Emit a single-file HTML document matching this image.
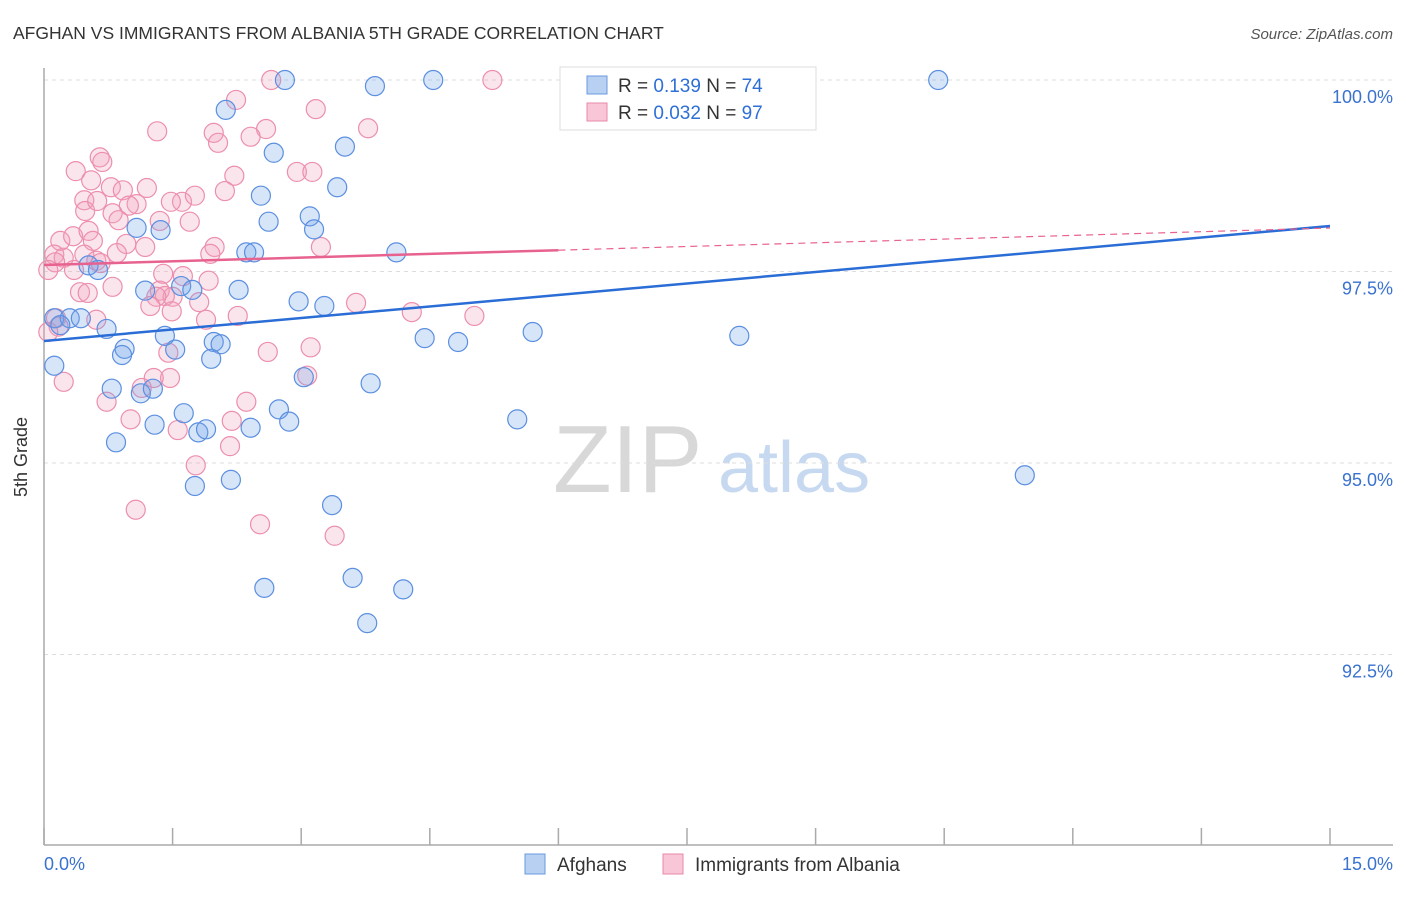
<!DOCTYPE html>
<html><head><meta charset="utf-8"><style>
body{margin:0;background:#fff;font-family:"Liberation Sans",sans-serif;}
svg text{font-family:"Liberation Sans",sans-serif;}
</style></head><body>
<svg width="1406" height="892" viewBox="0 0 1406 892" xmlns="http://www.w3.org/2000/svg">
<text x="13" y="39" font-size="17.5" fill="#333">AFGHAN VS IMMIGRANTS FROM ALBANIA 5TH GRADE CORRELATION CHART</text>
<text x="1393" y="39" font-size="15" fill="#555" font-style="italic" text-anchor="end">Source: ZipAtlas.com</text>
<g>
<text x="553" y="492" font-size="96" font-family="Liberation Serif" fill="#d8d8d8">ZIP</text>
<text x="718" y="492" font-size="72" fill="#c7d9f0">atlas</text>
</g>
<g id="grid"></g>
<g id="axes"></g>
<g id="pts"></g>
<g id="lines"></g>
<text x="27" y="457" font-size="18" fill="#333" text-anchor="middle" transform="rotate(-90 27 457)">5th Grade</text>
<g>
<rect x="560" y="67" width="256" height="63" fill="#fff" stroke="#ddd"/>
<rect x="587" y="76" width="20" height="18" fill="#b8d0f2" stroke="#6a9ae0"/>
<text x="618" y="92" font-size="19" fill="#333">R = <tspan fill="#2e6fd6"> 0.139</tspan>   N = <tspan fill="#2e6fd6">74</tspan></text>
<rect x="587" y="103" width="20" height="18" fill="#f8c6d6" stroke="#e889a8"/>
<text x="618" y="119" font-size="19" fill="#333">R = <tspan fill="#2e6fd6">0.032</tspan>   N = <tspan fill="#2e6fd6">97</tspan></text>
</g>
<g>
<rect x="525" y="854" width="20" height="20" fill="#b8d0f2" stroke="#6a9ae0"/>
<text x="557" y="871" font-size="19" fill="#333">Afghans</text>
<rect x="663" y="854" width="20" height="20" fill="#f8c6d6" stroke="#e889a8"/>
<text x="695" y="871" font-size="19" fill="#333">Immigrants from Albania</text>
</g>
</svg>
<script>
const yTicks=[100,97.5,95,92.5];
const yTickLabels=["100.0%","97.5%","95.0%","92.5%"];
const xTickLabels=["0.0%","15.0%"];
const blueX=[2.81,4.54,6.86,8.78,10.43,3.86,2.12,2.68,3.51,3.42,2.53,3.10,2.62,3.15,1.36,1.08,4.11,2.36,2.45,0.52,0.63,1.18,1.60,1.73,2.27,2.97,3.27,0.12,0.30,0.43,0.19,0.73,1.41,0.94,0.91,1.53,1.98,2.06,1.95,4.44,4.83,5.70,8.11,0.12,3.03,3.81,0.79,1.13,1.27,2.74,1.63,1.29,2.86,5.52,1.80,1.89,2.41,0.84,11.44,2.18,1.76,3.36,2.57,3.60,4.19,3.77];
const blueY=[100,100,100,100,100,99.92,99.61,99.05,99.13,98.60,98.49,98.22,98.15,98.05,98.04,98.07,97.75,97.75,97.75,97.58,97.52,97.25,97.31,97.26,97.26,97.11,97.05,96.89,96.89,96.89,96.80,96.75,96.66,96.49,96.41,96.48,96.58,96.55,96.36,96.63,96.58,96.71,96.66,96.27,96.12,96.04,95.97,95.91,95.97,95.70,95.65,95.50,95.54,95.57,95.40,95.44,95.46,95.27,94.84,94.78,94.70,94.45,93.37,93.50,93.35,92.91];
const pinkX=[2.65,5.23,2.24,3.17,1.32,1.98,3.78,2.59,2.03,2.41,2.95,3.13,2.22,0.65,0.68,0.37,0.55,0.47,0.78,0.92,1.20,1.08,0.99,0.80,0.87,0.48,0.62,2.11,1.61,1.48,1.76,1.35,1.70,0.19,0.34,0.52,0.57,0.96,1.18,1.99,1.94,0.85,3.23,0.12,0.23,0.47,0.61,0.13,0.05,0.35,0.66,0.42,1.35,1.50,1.62,1.92,1.81,1.41,1.31,1.39,0.80,0.51,1.24,1.49,1.89,2.26,3.64,4.29,5.02,0.61,0.17,0.05,0.14,1.45,2.61,3.11,1.47,1.28,3.07,0.23,0.73,1.14,2.36,1.01,1.56,2.19,2.17,1.77,1.07,2.52,3.39];
const pinkY=[100,100,99.74,99.62,99.33,99.31,99.37,99.36,99.18,99.26,98.80,98.80,98.75,98.99,98.93,98.81,98.69,98.43,98.60,98.56,98.59,98.38,98.36,98.26,98.17,98.29,98.42,98.55,98.41,98.41,98.49,98.16,98.15,97.90,97.96,98.03,97.90,97.86,97.82,97.82,97.73,97.74,97.82,97.72,97.68,97.72,97.64,97.62,97.52,97.52,97.61,97.23,97.25,97.17,97.44,97.38,97.10,97.18,97.17,97.47,97.30,97.22,97.05,96.98,96.87,96.92,97.09,96.97,96.92,96.87,96.78,96.71,96.89,96.44,96.45,96.51,96.11,96.11,96.14,96.06,95.80,95.98,95.80,95.57,95.43,95.55,95.22,94.97,94.39,94.20,94.05];
const blueTrend=[96.593,98.094];
const pinkTrend=[97.585,98.068];
const pinkSolidEnd=6.0;
const NS="http://www.w3.org/2000/svg";
const X0=44,X1=1330,Y100=80,PX_PER_PCT=191.5/2.5;
function sx(v){return X0+(v/15)*(X1-X0);}
function sy(v){return Y100+(100-v)*PX_PER_PCT;}
function mk(tag,attrs,parent){const e=document.createElementNS(NS,tag);for(const k in attrs)e.setAttribute(k,attrs[k]);parent.appendChild(e);return e;}
const grid=document.getElementById('grid');
yTicks.forEach((t,i)=>{
  const l=mk('line',{x1:X0,x2:1393,y1:sy(t),y2:sy(t),stroke:'#ddd','stroke-dasharray':'4 4'},grid);
  
  
  const tx=mk('text',{x:1393,y:sy(t)+23,'font-size':18,fill:'#3a72d0','text-anchor':'end'},grid);
  tx.textContent=yTickLabels[i];
  
  
});
const axes=document.getElementById('axes');
const la=mk('line',{x1:X0,x2:X0,y1:68,y2:845,stroke:'#aaa','stroke-width':1.5},axes);


const ba=mk('line',{x1:X0,x2:1393,y1:845,y2:845,stroke:'#aaa','stroke-width':1.5},axes);


for(let i=0;i<=10;i++){
  const v=i*1.5;
  const t=mk('line',{x1:sx(v),x2:sx(v),y1:828,y2:845,stroke:'#aaa','stroke-width':1.5},axes);
  
  
}
const xl0=mk('text',{x:44,y:870,'font-size':18,fill:'#3a72d0'},axes);
xl0.textContent=xTickLabels[0];


const xl1=mk('text',{x:1393,y:870,'font-size':18,fill:'#3a72d0','text-anchor':'end'},axes);
xl1.textContent=xTickLabels[1];


const pts=document.getElementById('pts');
pinkX.forEach((x,i)=>{
  const c=mk('circle',{cx:sx(x),cy:sy(pinkY[i]),r:9.5,fill:'rgba(242,160,188,0.28)',stroke:'#ec8fae','stroke-width':1.2},pts);
  
  
});
blueX.forEach((x,i)=>{
  const c=mk('circle',{cx:sx(x),cy:sy(blueY[i]),r:9.5,fill:'rgba(110,160,235,0.28)',stroke:'#5b8fe0','stroke-width':1.2},pts);
  
  
});
const lines=document.getElementById('lines');
const bl=mk('line',{x1:sx(0),y1:sy(blueTrend[0]),x2:sx(15),y2:sy(blueTrend[1]),stroke:'#2a6dd6','stroke-width':2.5},lines);


const pm=pinkTrend[0]+(pinkTrend[1]-pinkTrend[0])*pinkSolidEnd/15;
const pl=mk('line',{x1:sx(0),y1:sy(pinkTrend[0]),x2:sx(pinkSolidEnd),y2:sy(pm),stroke:'#e8628f','stroke-width':2.5},lines);


const pd=mk('line',{x1:sx(pinkSolidEnd),y1:sy(pm),x2:sx(15),y2:sy(pinkTrend[1]),stroke:'#e8628f','stroke-width':1.2,'stroke-dasharray':'7 5'},lines);


</script>
</body></html>
